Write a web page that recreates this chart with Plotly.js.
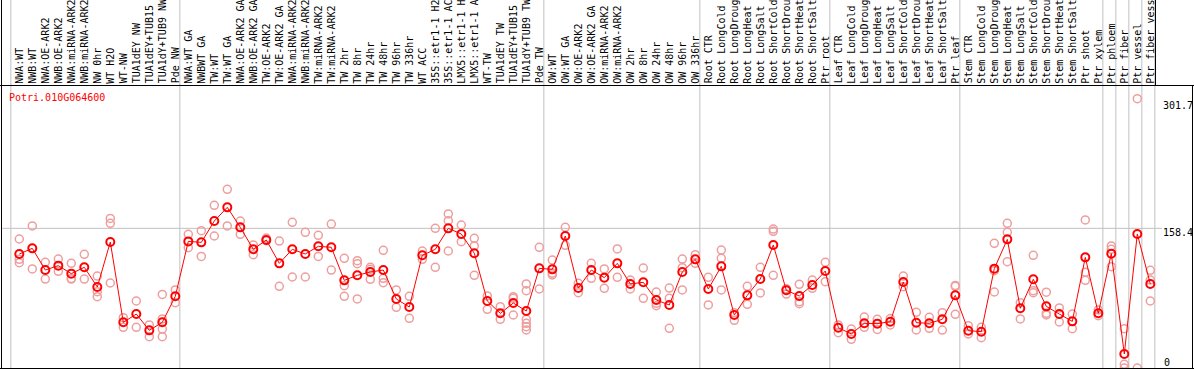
<!DOCTYPE html>
<html><head><meta charset="utf-8">
<script src="https://cdn.plot.ly/plotly-3.0.1.min.js"></script>
<style>html,body{margin:0;padding:0;background:#fff;overflow:hidden}</style>
</head><body><div id="chart" style="width:1194px;height:370px"></div>
<script>
const geneId = "Potri.010G064600";

const categories = [
  "NWA:WT","NWB:WT","NWA:OE-ARK2","NWB:OE-ARK2","NWA:miRNA-ARK2","NWB:miRNA-ARK2","NW 0hr","WT H2O","WT-NW",
  "TUA1dEY NW","TUA1dEY+TUB15 NW","TUA1dY+TUB9 NW","Pde NW",
  "NWA:WT GA","NWBWT GA","TW:WT","TW:WT GA","NWA:OE-ARK2 GA","NWB:OE-ARK2 GA","TW:OE-ARK2","TW:OE-ARK2 GA",
  "NWA:miRNA-ARK2 GA","NWB:miRNA-ARK2 GA","TW:miRNA-ARK2","TW:miRNA-ARK2 GA",
  "TW 2hr","TW 8hr","TW 24hr","TW 48hr","TW 96hr","TW 336hr","WT ACC",
  "35S::etr1-1 H2O","35S::etr1-1 ACC","LMX5::etr1-1 H2O","LMX5::etr1-1 ACC",
  "WT-TW","TUA1dEY TW","TUA1dEY+TUB15 TW","TUA1dY+TUB9 TW","Pde TW",
  "OW:WT","OW:WT GA","OW:OE-ARK2","OW:OE-ARK2 GA","OW:miRNA-ARK2","OW:miRNA-ARK2 GA",
  "OW 2hr","OW 8hr","OW 24hr","OW 48hr","OW 96hr","OW 336hr",
  "Root CTR","Root LongCold","Root LongDrought","Root LongHeat","Root LongSalt",
  "Root ShortCold","Root ShortDrought","Root ShortHeat","Root ShortSalt","Ptr root",
  "Leaf CTR","Leaf LongCold","Leaf LongDrought","Leaf LongHeat","Leaf LongSalt",
  "Leaf ShortCold","Leaf ShortDrought","Leaf ShortHeat","Leaf ShortSalt","Ptr leaf",
  "Stem CTR","Stem LongCold","Stem LongDrought","Stem LongHeat","Stem LongSalt",
  "Stem ShortCold","Stem ShortDrought","Stem ShortHeat","Stem ShortSalt","Ptr shoot",
  "Ptr xylem","Ptr phloem","Ptr fiber","Ptr vessel","Ptr fiber vessel"
];

const meanValues = [
  129.3,135.7,111.1,116.1,107.0,114.2,91.9,142.9,51.8,61.2,42.7,51.8,81.3,
  143.6,142.5,166.7,182.2,159.5,134.6,145.2,118.7,134.6,129.3,138.0,136.9,
  99.4,105.1,108.9,111.1,78.3,69.2,127.8,134.6,158.4,152.0,130.1,
  76.0,62.0,73.7,64.6,113.0,
  111.9,149.7,90.7,111.1,102.5,118.7,95.3,97.2,77.1,71.5,108.9,123.2,
  89.6,115.3,60.1,82.4,100.9,139.5,88.1,81.7,94.1,110.0,
  45.7,38.6,50.7,50.3,52.5,97.5,51.4,50.7,55.2,82.4,
  42.3,41.2,112.7,145.9,67.7,100.6,69.9,61.2,52.9,125.5,
  62.0,129.7,15.9,152.0,95.3
];

const replicates = [
  [146.3,123.2,119.5],[161.1,112.3],[119.8,100.9],[123.6,109.6],[118.7,101.5,100.9],[128.9,100.9],
  [104.3,86.6,80.9],[169.7,164.1,96.4],[57.1,46.1],[76.0,46.1],[48.8,35.5],[83.5,55.6,44.2,35.5],[88.5,74.1],
  [151.6,136.5],[155.8,126.6],[184.5,149.7],[202.6,161.1],[166.7,151.6],[139.5,128.5],[147.4,144.4],
  [144.0,92.6],[165.2,103.2],[153.9,103.2],[150.5,126.6],[163.3,111.1],
  [124.4,93.4,81.3],[121.7,118.3,78.3],[114.2,112.0,100.6],[133.5,101.7,96.8],[88.5,68.8],[81.3,56.3],
  [132.7,123.2],[158.4,114.2],[174.7,167.1,132.7],[162.2,143.3],[147.1,138.4,105.1],
  [81.7,66.5],[69.6,55.2],[80.9,79.0,60.1],[95.3,87.7,55.2,50.7,46.9,43.1],[136.9,89.6],
  [122.5,107.4,105.5],[159.5,139.1],[96.0,85.4],[118.7,101.7],[112.3,90.4],[135.0,102.8],
  [99.8,89.6],[113.4,79.0],[86.2,73.3,70.7],[90.7,79.0,45.0],[123.6,113.8,88.5],[128.5,118.7],
  [102.8,71.5],[133.8,124.4,88.5],[62.8,54.1],[92.6,72.2],[114.2,85.1],[157.6,155.0,105.1],
  [90.0,83.9],[94.9,75.2,73.0],[99.8,90.4],[119.8,97.9],
  [48.8,40.1],[44.2,32.5],[57.8,46.1],[55.2,43.8],[56.0,48.8],[104.3,92.2],
  [63.1,43.1],[57.5,45.0],[62.7,43.0],[93.7,92.6,60.9],
  [48.0,38.6],[46.1,34.4],[141.4,110.4,86.2],[164.1,153.9,120.6],[74.1,55.6],[127.8,87.7,85.4],
  [86.0,62.0,60.1],[68.1,52.2],[61.2,44.6],[167.9,108.5,99.4],
  [65.8,59.4],[138.4,134.6,114.9],[44.6,4.2,0],[305.4,0],[110.8,99.8,76.0]
];

const groupStarts = [0,13,41,53,63,73,84,85,86,87,88];
const yLabels = ["301.7","158.4","0"];
const yLabelValues = [301.7,158.4,0];
const gridValue = 158.4;

// ---- layout geometry ----
const W = 1194, H = 370;
const M = {l:1, r:36, t:85, b:1};
const PW = W - M.l - M.r, PH = H - M.t - M.b;
const px = x => (x - M.l) / PW;
const py = y => (H - M.b - y) / PH;

const FONT = 'DejaVu Sans Mono, Liberation Mono, monospace';
const GREY = '#c0c0c0';

const repX = [], repY = [];
replicates.forEach((arr, i) => arr.forEach(v => { repX.push(categories[i]); repY.push(v); }));

const traces = [
  {
    type: 'scatter', mode: 'markers', x: repX, y: repY, hoverinfo: 'skip',
    marker: {symbol: 'circle-open', size: 8, color: '#ee9e9e', line: {width: 1.5}},
    showlegend: false
  },
  {
    type: 'scatter', mode: 'lines+markers', x: categories, y: meanValues,
    line: {color: '#ff0000', width: 1},
    marker: {symbol: 'circle-open', size: 8, color: '#ff0000', line: {width: 2}},
    showlegend: false
  }
];

const shapes = [];
groupStarts.forEach(k => {
  shapes.push({type:'line', layer:'below', xref:'x', yref:'paper', x0:k-0.65, x1:k-0.65,
    y0:py(369), y1:py(0), line:{color:GREY, width:1}});
});
shapes.push({type:'line', layer:'below', xref:'paper', yref:'y', x0:px(1), x1:px(1162),
  y0:gridValue, y1:gridValue, line:{color:GREY, width:1}});
// black frame
shapes.push({type:'line', xref:'paper', yref:'paper', x0:px(0), x1:px(1194), y0:py(85.5), y1:py(85.5), line:{color:'#000', width:1}});
shapes.push({type:'line', xref:'paper', yref:'paper', x0:px(0), x1:px(1194), y0:py(368.5), y1:py(368.5), line:{color:'#000', width:1}});
shapes.push({type:'line', xref:'paper', yref:'paper', x0:px(1.5), x1:px(1.5), y0:py(0), y1:py(369), line:{color:'#000', width:1}});
shapes.push({type:'line', xref:'paper', yref:'paper', x0:px(1192.5), x1:px(1192.5), y0:py(85), y1:py(369), line:{color:'#000', width:1}});
shapes.push({type:'line', xref:'paper', yref:'paper', x0:px(1155.5), x1:px(1155.5), y0:py(0), y1:py(85), line:{color:'#000', width:1}});

const annotations = [];
categories.forEach(c => {
  annotations.push({x:c, xref:'x', y:py(83.5), yref:'paper', yanchor:'bottom', xanchor:'center',
    text:c, textangle:-90, showarrow:false, borderpad:0, borderwidth:0,
    font:{family:FONT, size:10, color:'#000'}});
});
annotations.push({x:px(9), xref:'paper', xanchor:'left', y:py(97), yref:'paper', yanchor:'middle',
  text:geneId, showarrow:false, borderpad:0, borderwidth:0, font:{family:FONT, size:10, color:'#ff0000'}});
yLabels.forEach((t, i) => {
  const v = yLabelValues[i];
  if (v === 0) {
    annotations.push({x:px(1163.5), xref:'paper', xanchor:'left', y:py(362), yref:'paper', yanchor:'middle',
      text:t, showarrow:false, borderpad:0, borderwidth:0, font:{family:FONT, size:10, color:'#000'}});
  } else {
    annotations.push({x:px(1163), xref:'paper', xanchor:'left', y:v, yref:'y', yanchor:'top', yshift:1.5,
      text:t, showarrow:false, borderpad:0, borderwidth:0, font:{family:FONT, size:10, color:'#000'}});
  }
});

const layout = {
  width: W, height: H, margin: M,
  paper_bgcolor: '#fff', plot_bgcolor: 'rgba(0,0,0,0)',
  showlegend: false, hovermode: false,
  xaxis: {type:'category', categoryorder:'array', categoryarray:categories,
    range:[-1.4077, 87.592], visible:false, fixedrange:true},
  yaxis: {range:[-1.134, 320.97], visible:false, fixedrange:true},
  shapes: shapes, annotations: annotations
};

Plotly.newPlot('chart', traces, layout, {staticPlot:true, displayModeBar:false});
</script>
</body></html>
